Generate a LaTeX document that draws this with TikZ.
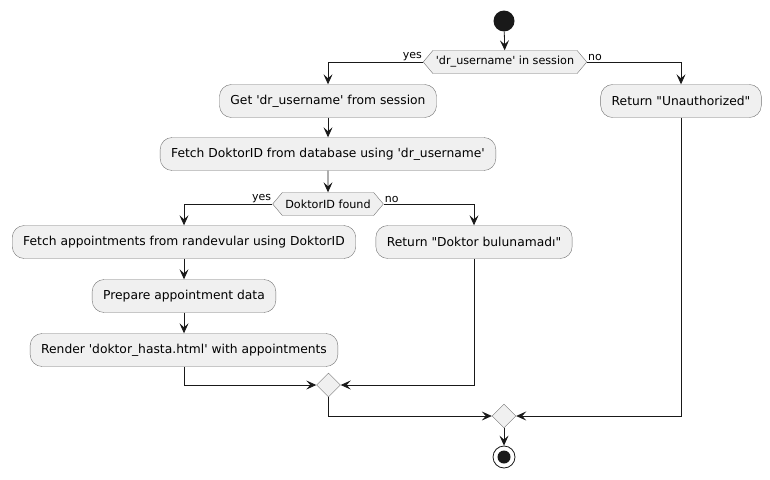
\documentclass[tikz,border=0pt]{standalone}
\usepackage{fontspec}
\setmainfont{DejaVu Sans}
\usetikzlibrary{arrows.meta,shapes.geometric,shapes.symbols}

\newcommand{\sq}{\textquotesingle}
\newcommand{\dq}{\textquotedbl}

\tikzset{
  action/.style={draw=black!55, fill=black!6, rounded corners=12pt, minimum height=33pt,
    inner xsep=11pt, font=\fontsize{12.3pt}{14pt}\selectfont},
  decision/.style={draw=black!55, fill=black!6, signal, signal to=west and east,
    signal pointer angle=100, minimum height=23pt, inner xsep=3pt, inner ysep=0pt,
    font=\fontsize{11.2pt}{13pt}\selectfont},
  merge/.style={draw=black!55, fill=black!6, diamond, minimum size=24pt, inner sep=0pt},
  flow/.style={draw=black!90, line width=0.8pt, -{Stealth[length=10pt,width=9pt,inset=4pt]}},
  branch/.style={font=\fontsize{11pt}{13pt}\selectfont, inner sep=1pt}
}

\begin{document}
\begin{tikzpicture}[x=1pt,y=-1pt]
  \useasboundingbox (0,0) rectangle (770,479);

  \node[circle, fill=black!90, minimum size=21pt, inner sep=0pt] (Start) at (504,21) {};
  \node[decision] (InSession) at (505,62) {\sq dr\_username\sq{} in session};

  \node[action] (GetUser) at (328,101) {Get \sq dr\_username\sq{} from session};
  \node[action] (Unauth) at (681,101) {Return \dq Unauthorized\dq};
  \node[action] (FetchID) at (328,154) {Fetch DoktorID from database using \sq dr\_username\sq};

  \node[decision] (IDFound) at (328,204) {DoktorID found};

  \node[action] (FetchAppt) at (184,242) {Fetch appointments from randevular using DoktorID};
  \node[action] (NotFound) at (474,242) {Return \dq Doktor bulunamadı\dq};
  \node[action] (Prepare) at (184,296) {Prepare appointment data};
  \node[action] (Render) at (184,350) {Render \sq doktor\_hasta.html\sq{} with appointments};

  \node[merge] (MergeID) at (328.5,385) {};
  \node[merge] (MergeAll) at (504,416) {};

  \node[circle, draw=black!90, fill=white, line width=0.8pt, minimum size=22pt, inner sep=0pt,
    path picture={\fill[black!90] (path picture bounding box.center) circle (6.5pt);}] (Stop) at (504,457) {};

  \draw[flow] (Start) to (InSession);
  \draw[flow] (InSession.west) -| (GetUser);
  \draw[flow] (InSession.east) -| (Unauth);
  \node[branch, anchor=south east] at (InSession.west) {yes};
  \node[branch, anchor=south west] at (InSession.east) {no};

  \draw[flow] (GetUser) to (FetchID);
  \draw[flow] (FetchID) to (IDFound);
  \draw[flow] (IDFound.west) -| (FetchAppt);
  \draw[flow] (IDFound.east) -| (NotFound);
  \node[branch, anchor=south east] at (IDFound.west) {yes};
  \node[branch, anchor=south west] at (IDFound.east) {no};

  \draw[flow] (FetchAppt) to (Prepare);
  \draw[flow] (Prepare) to (Render);

  \draw[flow] (Render.south) |- (MergeID.west);
  \draw[flow] (NotFound.south) |- (MergeID.east);
  \draw[flow] (MergeID.south) |- (MergeAll.west);
  \draw[flow] (Unauth.south) |- (MergeAll.east);
  \draw[flow] (MergeAll) to (Stop);

\end{tikzpicture}
\end{document}
